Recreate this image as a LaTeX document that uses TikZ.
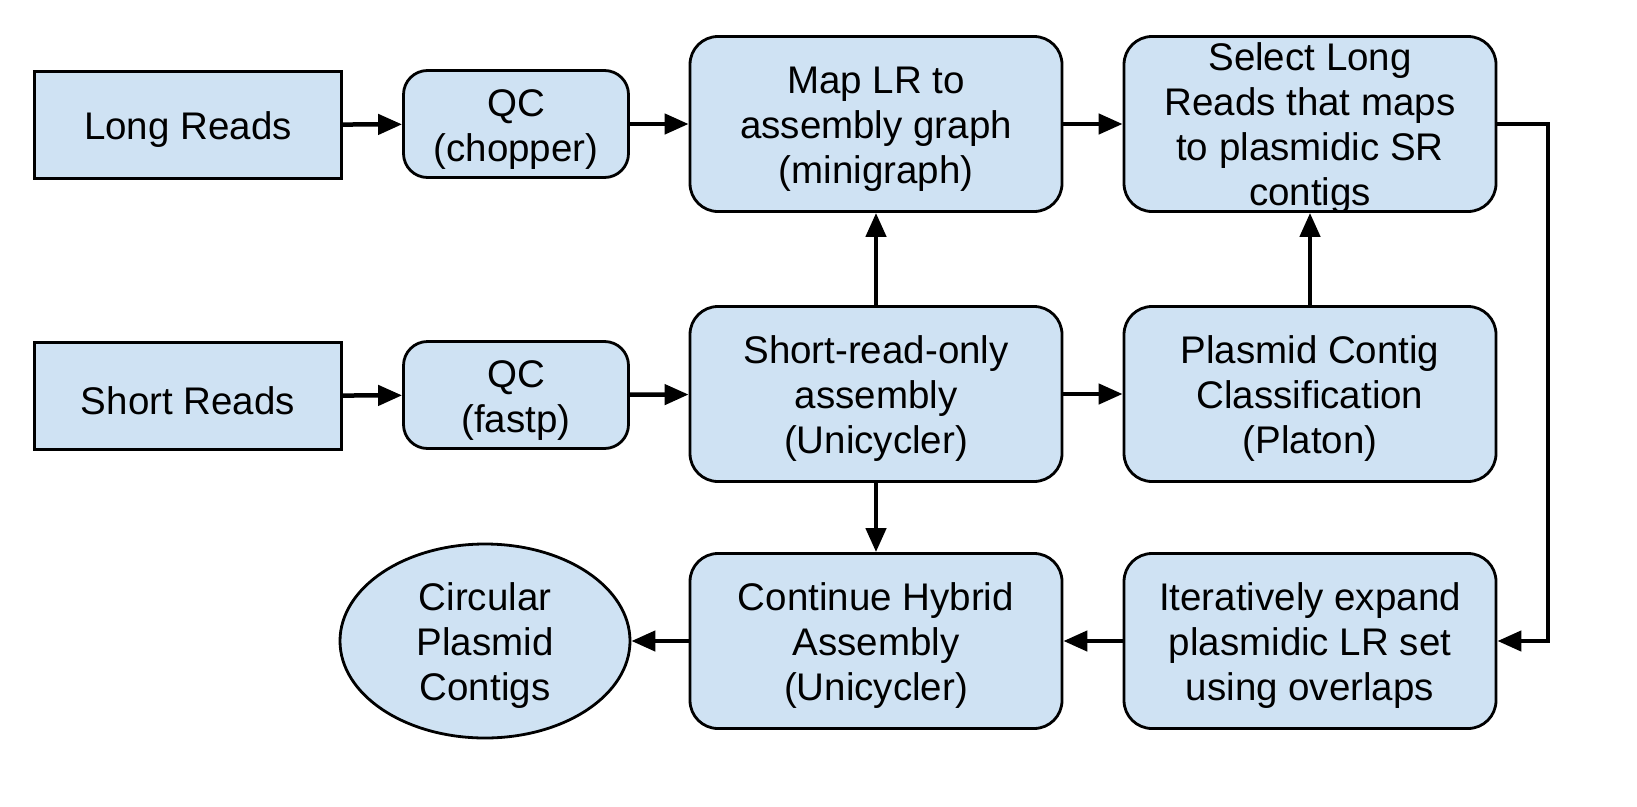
\documentclass[tikz,border=0pt]{standalone}
\usepackage{fontspec}
\setmainfont{Liberation Sans}
\usetikzlibrary{shapes.geometric,arrows.meta}
\definecolor{boxfill}{HTML}{CFE2F3}
\newcommand\toppad{\rule{0pt}{37pt}}
\begin{document}
\begin{tikzpicture}[x=1pt,y=-1pt,
  base/.style={draw=black,fill=boxfill,line width=2.8pt,align=center,inner sep=0pt,
    font=\fontsize{38.5}{45}\selectfont},
  sq/.style={base,rectangle,minimum width=307pt,minimum height=107pt},
  qc/.style={base,rectangle,rounded corners=24pt,minimum width=225pt,minimum height=107pt},
  big/.style={base,rectangle,rounded corners=28pt,minimum width=372pt,minimum height=175pt},
  ell/.style={base,ellipse,minimum width=290pt,minimum height=194pt},
  arr/.style={line width=4.5pt,-{Triangle[length=24pt,width=20pt]}}]
\useasboundingbox (0,0) rectangle (1637,806);
\node[sq] (lr) at (188,125) {\toppad Long Reads};
\node[qc] (qc1) at (516,124) {\toppad QC\\(chopper)};
\node[big] (map) at (876,124) {\toppad Map LR to\\assembly graph\\(minigraph)};
\node[big] (sel) at (1310,124) {Select Long\\Reads that maps\\to plasmidic SR\\\smash{contigs}};
\node[sq] (sr) at (188,396) {\toppad Short Reads};
\node[qc] (qc2) at (516,395) {\toppad QC\\(fastp)};
\node[big] (sro) at (876,394) {\toppad Short-read-only\\assembly\\(Unicycler)};
\node[big] (pc) at (1310,394) {\toppad Plasmid Contig\\Classification\\(Platon)};
\node[ell] (circ) at (485,641) {\toppad Circular\\Plasmid\\Contigs};
\node[big] (cont) at (876,641) {\toppad Continue Hybrid\\Assembly\\(Unicycler)};
\node[big] (iter) at (1310,641) {\toppad Iteratively expand\\plasmidic LR set\\using overlaps};
\coordinate (c1) at (1548,124);
\coordinate (c2) at (1548,641);
\draw[arr] (lr) -- (qc1);
\draw[arr] (qc1) -- (map);
\draw[arr] (map) -- (sel);
\draw[arr] (sr) -- (qc2);
\draw[arr] (qc2) -- (sro);
\draw[arr] (sro) -- (pc);
\draw[arr] (sro) -- (map);
\draw[arr] (pc) -- (sel);
\draw[arr] (sro) -- (cont);
\draw[arr] (cont) -- (circ);
\draw[arr] (iter) -- (cont);
\draw[arr] (sel.east) -- (c1) -- (c2) -- (iter.east);
\end{tikzpicture}
\end{document}
